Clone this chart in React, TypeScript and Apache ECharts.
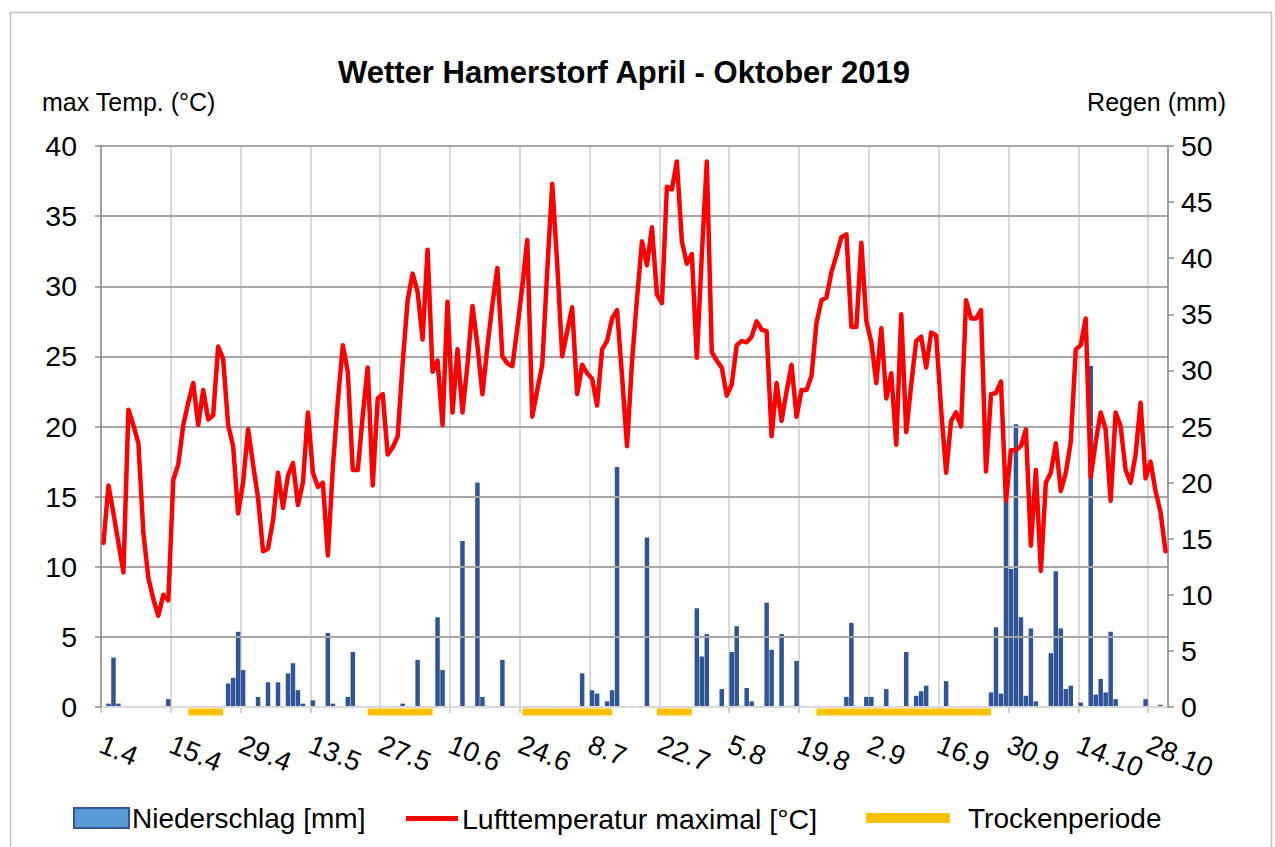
import React, { useEffect, useRef } from "react";
import * as echarts from "echarts";

const tickLabels = ["1.4", "15.4", "29.4", "13.5", "27.5", "10.6", "24.6", "8.7", "22.7", "5.8", "19.8", "2.9", "16.9", "30.9", "14.10", "28.10"];

// Lufttemperatur maximal [°C], one value per day
const tempApr = [11.7, 15.8, 13.8, 11.7, 9.6, 21.2, 20.1, 18.8, 12.4, 9.2, 7.7, 6.5, 8.0, 7.6, 16.2, 17.3, 20.1, 21.7, 23.1, 20.1, 22.6, 20.5, 20.8, 25.7, 24.8, 20.1, 18.6, 13.8, 16.0, 19.8];
const tempMay = [17.3, 14.9, 11.1, 11.3, 13.3, 16.7, 14.2, 16.5, 17.4, 14.4, 16.0, 21.0, 16.7, 15.7, 16.0, 10.8, 17.1, 21.8, 25.8, 23.9, 16.9, 16.9, 20.8, 24.2, 15.8, 22.0, 22.3, 18.0, 18.5, 19.3, 24.5];
const tempJun = [29.0, 30.9, 29.6, 26.2, 32.6, 23.9, 24.7, 20.1, 28.9, 21.0, 25.5, 21.0, 24.4, 28.6, 25.8, 22.3, 25.7, 28.7, 31.3, 25.0, 24.5, 24.3, 27.0, 30.0, 33.3, 20.7, 22.6, 24.4, 31.1, 37.3];
const tempJul = [31.6, 25.0, 26.8, 28.5, 22.3, 24.4, 23.8, 23.4, 21.5, 25.5, 26.1, 27.7, 28.3, 23.6, 18.6, 24.6, 29.1, 33.2, 31.5, 34.2, 29.4, 28.8, 37.1, 36.9, 38.9, 33.2, 31.6, 32.3, 24.9, 32.2, 38.9];
const tempAug = [25.3, 24.7, 24.2, 22.2, 23.0, 25.8, 26.1, 26.0, 26.4, 27.5, 26.9, 26.8, 19.3, 23.1, 20.4, 22.5, 24.4, 20.7, 22.6, 22.6, 23.6, 27.4, 29.0, 29.2, 31.0, 32.2, 33.5, 33.7, 27.1, 27.1, 33.1];
const tempSep = [27.5, 26.0, 23.1, 27.0, 22.0, 23.8, 18.7, 28.0, 19.6, 23.0, 26.1, 26.4, 24.2, 26.7, 26.5, 21.2, 16.7, 20.4, 21.0, 20.0, 29.0, 27.7, 27.7, 28.3, 16.8, 22.3, 22.4, 23.2, 14.7, 18.3];
const tempOct = [18.3, 18.6, 19.8, 11.5, 16.9, 9.7, 16.0, 16.7, 18.8, 15.4, 16.7, 18.9, 25.5, 25.8, 27.7, 16.4, 18.9, 21.0, 19.8, 14.7, 21.0, 20.0, 16.9, 16.0, 18.0, 21.7, 16.3, 17.5, 15.4, 13.9, 11.1];

// Niederschlag [mm], one value per day
const rainApr = [0, 0.3, 4.4, 0.3, 0, 0, 0, 0, 0, 0, 0, 0, 0.1, 0.7, 0, 0, 0, 0, 0, 0, 0, 0, 0, 0, 0.1, 2.1, 2.6, 6.7, 3.3, 0];
const rainMay = [0, 0.9, 0, 2.2, 0, 2.2, 0, 3.0, 3.9, 1.5, 0.3, 0, 0.6, 0, 0, 6.6, 0.3, 0, 0, 0.9, 4.9, 0.1, 0, 0, 0, 0, 0.1, 0, 0, 0, 0.3];
const rainJun = [0, 0, 4.2, 0, 0, 0, 8.0, 3.3, 0, 0, 0.1, 14.8, 0.1, 0, 20.0, 0.9, 0.1, 0, 0, 4.2, 0, 0, 0, 0, 0, 0, 0, 0, 0, 0];
const rainJul = [0, 0, 0, 0, 0, 3.0, 0, 1.5, 1.2, 0, 0.5, 1.5, 21.4, 0, 0, 0.1, 0, 0, 15.1, 0.1, 0, 0, 0, 0, 0, 0, 0, 0, 8.8, 4.5, 6.5];
const rainAug = [0, 0.1, 1.6, 0, 4.9, 7.2, 0.1, 1.7, 0.5, 0, 0, 9.3, 5.1, 0, 6.5, 0.1, 0.1, 4.1, 0.1, 0, 0, 0.1, 0, 0, 0, 0, 0, 0.9, 7.5, 0.1, 0];
const rainSep = [0.9, 0.9, 0, 0, 1.6, 0, 0, 0, 4.9, 0, 1.0, 1.4, 1.9, 0, 0, 0, 2.3, 0, 0, 0, 0, 0, 0, 0, 0, 1.3, 7.1, 1.2, 18.3, 12.3];
const rainOct = [25.2, 8.0, 1.0, 7.0, 0.5, 0, 0, 4.8, 12.1, 7.0, 1.6, 1.9, 0, 0.4, 0, 30.4, 1.1, 2.5, 1.3, 6.7, 0.7, 0, 0, 0, 0, 0, 0.7, 0, 0, 0.2, 0];

// Trockenperioden: first and last day index (0 = 1.4.)
const dryStart = [17, 53, 84, 111, 143];
const dryEnd = [24, 66, 102, 118, 178];

const temps = [...tempApr, ...tempMay, ...tempJun, ...tempJul, ...tempAug, ...tempSep, ...tempOct];
const rain = [...rainApr, ...rainMay, ...rainJun, ...rainJul, ...rainAug, ...rainSep, ...rainOct];

const FONT = "'Liberation Sans', Arial, sans-serif";

export default function App() {
  const ref = useRef<HTMLDivElement>(null);
  useEffect(() => {
    const chart = echarts.init(ref.current as HTMLDivElement, null, { renderer: "svg" });
    const rainData = rain.map((v, i) => [i + 0.5, v]).filter((d) => d[1] > 0);
    const tempData = temps.map((v, i) => [i + 0.5, v]);
    const dryY = -0.36;
    const dryData: any[] = [];
    dryStart.forEach((s, k) => {
      dryData.push([s + 0.5, dryY], [dryEnd[k] + 0.5, dryY], [dryEnd[k] + 1, null]);
    });
    const hColors = ["#D9D9D9", "#A6A6A6", "#A6A6A6", "#A6A6A6", "#A6A6A6", "#A6A6A6", "#A6A6A6", "#A6A6A6", "#A6A6A6"];
    const legendText = { fontSize: 28, fontFamily: FONT, color: "#000" };
    chart.setOption({
      animation: false,
      backgroundColor: "#FFFFFF",
      title: {
        text: "Wetter Hamerstorf April - Oktober 2019",
        left: 619,
        textAlign: "center",
        top: 52,
        textStyle: { fontFamily: FONT, fontSize: 31, fontWeight: "bold", color: "#000" },
      },
      graphic: [
        {
          type: "rect",
          silent: true,
          z: -10,
          shape: { x: 10.5, y: 12.5, width: 1261, height: 860 },
          style: { fill: "none", stroke: "#BFBFBF", lineWidth: 1.5 },
        },
        {
          type: "text",
          left: 42,
          top: 89,
          style: { text: "max Temp. (°C)", font: `25px ${FONT}`, fill: "#000" },
        },
        {
          type: "text",
          right: 49,
          top: 89,
          style: { text: "Regen (mm)", font: `25px ${FONT}`, fill: "#000" },
        },
      ],
      legend: [
        {
          data: [{ name: "Niederschlag [mm]", icon: "rect", itemStyle: { color: "#5B9BD5", borderColor: "#2F5597", borderWidth: 2 } }],
          left: 73,
          top: 804,
          padding: 0,
          itemWidth: 55,
          itemHeight: 20,
          selectedMode: false,
          textStyle: { ...legendText, padding: [0, 0, 0, -2] },
        },
        {
          data: [{ name: "Lufttemperatur maximal [°C]", icon: "rect", itemStyle: { color: "#FF0000" } }],
          left: 406,
          top: 804,
          padding: 0,
          itemWidth: 52,
          itemHeight: 5,
          selectedMode: false,
          textStyle: { ...legendText, fontSize: 28.5, padding: [0, 0, 0, -1] },
        },
        {
          data: [{ name: "Trockenperiode", icon: "rect", itemStyle: { color: "#FFC000" } }],
          left: 866,
          top: 804,
          padding: 0,
          itemWidth: 84,
          itemHeight: 10,
          selectedMode: false,
          textStyle: { ...legendText, padding: [0, 0, 0, 13] },
        },
      ],
      grid: { left: 101, right: 107, top: 146, bottom: 140, containLabel: false },
      xAxis: {
        type: "value",
        min: 0,
        max: 214,
        interval: 14,
        axisLine: { show: true, onZero: false, lineStyle: { color: "#D9D9D9", width: 2 } },
        axisTick: { show: true, length: 6, lineStyle: { color: "#BFBFBF", width: 1.5 } },
        axisLabel: {
          rotate: -22,
          margin: 36,
          fontSize: 27.5,
          fontFamily: FONT,
          color: "#000",
          showMaxLabel: false,
          formatter: (v: number) => (v % 14 === 0 && tickLabels[v / 14] !== undefined ? tickLabels[v / 14] : ""),
        },
        splitLine: { show: true, lineStyle: { color: "#D9D9D9", width: 2 } },
      },
      yAxis: [
        {
          type: "value",
          min: 0,
          max: 40,
          interval: 5,
          position: "left",
          z: 3,
          axisLine: { show: true, lineStyle: { color: "#8C8C8C", width: 1.5 } },
          axisTick: { show: true, length: 6, lineStyle: { color: "#8C8C8C", width: 1.5 } },
          axisLabel: { fontSize: 28.5, fontFamily: FONT, color: "#000", margin: 24 },
          splitLine: { show: true, lineStyle: { color: hColors, width: 2 } },
        },
        {
          type: "value",
          min: 0,
          max: 50,
          interval: 5,
          position: "right",
          z: 3,
          axisLine: { show: true, lineStyle: { color: "#8C8C8C", width: 1.5 } },
          axisTick: { show: true, length: 6, lineStyle: { color: "#8C8C8C", width: 1.5 } },
          axisLabel: { fontSize: 28.5, fontFamily: FONT, color: "#000", margin: 13 },
          splitLine: { show: false },
        },
      ],
      series: [
        {
          name: "Niederschlag [mm]",
          type: "bar",
          xAxisIndex: 0,
          yAxisIndex: 1,
          data: rainData,
          barWidth: 4.5,
          itemStyle: { color: "#2F5597" },
          z: 2,
        },
        {
          name: "Lufttemperatur maximal [°C]",
          type: "line",
          xAxisIndex: 0,
          yAxisIndex: 0,
          data: tempData,
          symbol: "none",
          showSymbol: false,
          lineStyle: { color: "#FF0000", width: 4.5, join: "round", cap: "round" },
          itemStyle: { color: "#FF0000" },
          z: 4,
        },
        {
          name: "Trockenperiode",
          type: "line",
          xAxisIndex: 0,
          yAxisIndex: 0,
          data: dryData,
          symbol: "none",
          showSymbol: false,
          clip: false,
          connectNulls: false,
          lineStyle: { color: "#FFC000", width: 7, cap: "butt" },
          itemStyle: { color: "#FFC000" },
          z: 3,
        },
      ],
    });
    return () => chart.dispose();
  }, []);
  return <div ref={ref} style={{ position: "absolute", left: 0, top: 0, width: 1275, height: 847 }} />;
}
